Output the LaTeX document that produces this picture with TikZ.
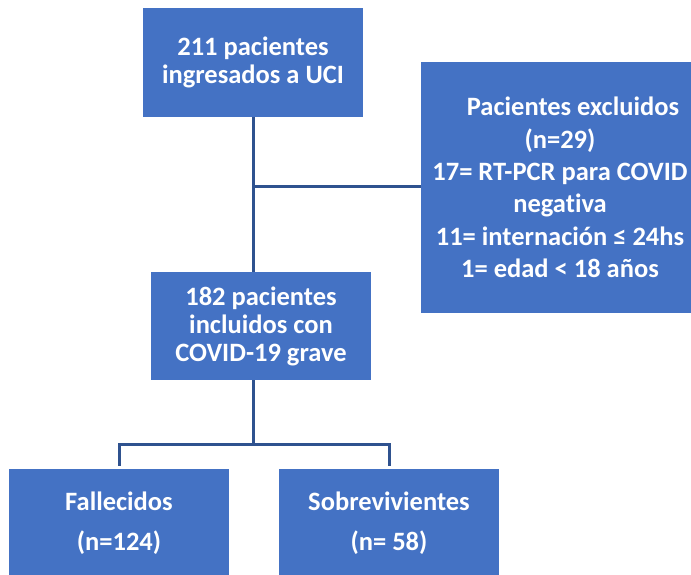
\documentclass[tikz,border=0pt]{standalone}
\usepackage{fontspec}
\setmainfont[Ligatures={NoCommon}]{Carlito}
\definecolor{boxblue}{RGB}{68,114,196}
\definecolor{lineblue}{RGB}{47,82,143}
\tikzset{
  bluebox/.style={fill=boxblue, draw=none, inner sep=0pt, align=center,
    text=white, font=\fontsize{26.5pt}{28pt}\selectfont\bfseries},
  conn/.style={draw=lineblue, line width=3pt}
}
\begin{document}
\begin{tikzpicture}[x=1pt,y=-1pt]
\useasboundingbox (0,0) rectangle (691,575);
\clip (0,0) rectangle (691,575);
\fill[white] (0,0) rectangle (691,575);
\node[bluebox, minimum width=220pt, minimum height=109pt] (b1) at (253,62.5)
  {211 pacientes\\ingresados a UCI};
\node[bluebox, minimum width=278pt, minimum height=251pt,
  font=\fontsize{26.5pt}{32.3pt}\selectfont\bfseries] (b2) at (560,187.5)
  {\hspace*{26pt}Pacientes excluidos\\(n=29)\\17= RT-PCR para COVID\\negativa\\11= internación ≤ 24hs\\1= edad < 18 años};
\node[bluebox, minimum width=220pt, minimum height=108pt] (b3) at (261,326)
  {182 pacientes\\incluidos con\\COVID-19 grave};
\node[bluebox, minimum width=220pt, minimum height=109pt,
  font=\fontsize{26.5pt}{40pt}\selectfont\bfseries] (b4) at (119,523.5)
  {Fallecidos\\(n=124)};
\node[bluebox, minimum width=220pt, minimum height=109pt,
  font=\fontsize{26.5pt}{40pt}\selectfont\bfseries] (b5) at (389,523.5)
  {Sobrevivientes\\(n= 58)};
\coordinate (j1) at (253,187);
\coordinate (j2) at (253,444);
\draw[conn] (b1.south) -- (b1.south |- b3.north);
\draw[conn] (j1) -- (j1 -| b2.west);
\draw[conn] (b1.south |- b3.south) -- (j2);
\draw[conn, line cap=rect] (j2 -| b4.north) -- (j2 -| b5.north);
\draw[conn, shorten >=3pt] (j2 -| b4.north) -- (b4.north);
\draw[conn, shorten >=3pt] (j2 -| b5.north) -- (b5.north);
\end{tikzpicture}
\end{document}
